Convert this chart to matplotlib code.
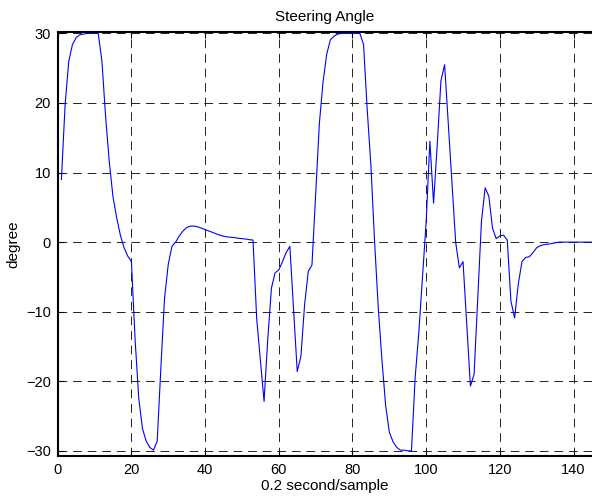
import matplotlib
matplotlib.use("Agg")
import matplotlib.pyplot as plt

# sample index (0.2 s per sample) and steering angle in degrees
sample = list(range(1, 147))
angle = [
    9.0, 19.7, 26.0, 28.4, 29.4, 29.8, 29.9, 30.0, 30.0, 30.0,
    30.0, 26.0, 18.0, 11.5, 6.5, 3.5, 1.0, -0.8, -2.0, -2.8,
    -14.0, -22.5, -26.8, -28.6, -29.5, -29.9, -28.6, -18.0, -8.0, -3.2,
    -0.6, 0.0, 0.9, 1.6, 2.1, 2.3, 2.3, 2.2, 2.0, 1.8,
    1.6, 1.4, 1.2, 1.0, 0.85, 0.75, 0.7, 0.65, 0.55, 0.5,
    0.45, 0.35, 0.3, -11.0, -17.0, -22.9, -14.0, -6.6, -4.4, -4.0,
    -2.8, -1.5, -0.6, -9.5, -18.6, -16.4, -9.0, -4.2, -3.3, 7.0,
    17.0, 23.0, 27.0, 29.1, 29.6, 29.9, 30.0, 30.0, 30.0, 30.0,
    30.0, 30.0, 28.4, 19.0, 11.0, 0.0, -9.5, -17.0, -23.5, -27.3,
    -28.7, -29.5, -29.9, -29.9, -30.0, -30.0, -19.5, -13.0, -5.0, 3.0,
    14.5, 5.6, 14.0, 23.2, 25.5, 17.0, 8.5, 0.0, -3.7, -2.8,
    -11.7, -20.7, -19.0, -8.0, 3.0, 7.8, 6.6, 2.0, 0.5, 0.9,
    1.0, 0.3, -8.5, -10.9, -6.0, -2.8, -2.2, -2.1, -1.5, -0.8,
    -0.5, -0.35, -0.3, -0.2, -0.1, 0.0, 0.0, 0.0, 0.0, 0.0,
    0.0, 0.0, 0.0, 0.0, 0.0, 0.0,
]
x_ticks = [0, 20, 40, 60, 80, 100, 120, 140]
y_ticks = [-30, -20, -10, 0, 10, 20, 30]

plt.rcParams["font.family"] = ["Liberation Sans", "DejaVu Sans"]

fig = plt.figure(figsize=(5.92, 5.04), dpi=100)
ax = fig.add_axes([0.0975, 0.0958, 0.9025, 0.840])

ax.plot(sample, angle, color="#0000ff", linewidth=0.8)

ax.set_xlim(0, 145)
ax.set_ylim(-30.7, 30.15)
ax.set_xticks(x_ticks)
ax.set_yticks(y_ticks)
ax.grid(True, color="#222222", linestyle=(0, (9, 6)), linewidth=0.7)
ax.tick_params(direction="in", length=4, width=0.8, labelsize=10.5,
               top=True, right=False, pad=5)
for side in ("left", "bottom", "top"):
    ax.spines[side].set_linewidth(1.5)
ax.spines["right"].set_visible(False)

ax.set_title("Steering Angle", fontsize=11, pad=8)
ax.set_xlabel("0.2 second/sample", fontsize=11, labelpad=2)
ax.set_ylabel("degree", fontsize=11, labelpad=4)

fig.savefig("out.png", dpi=100)
